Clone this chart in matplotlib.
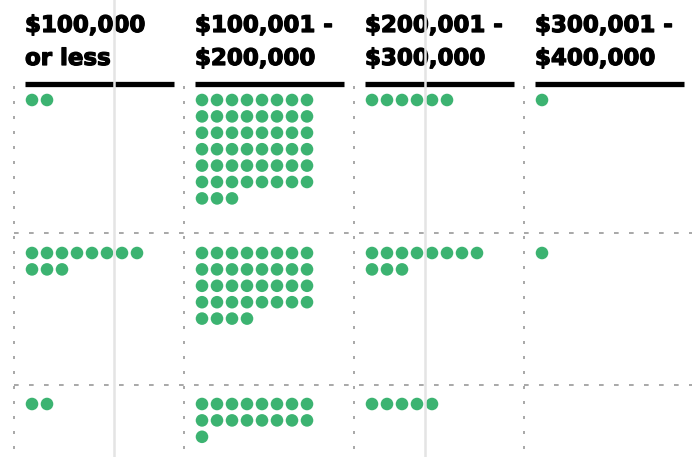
import matplotlib
matplotlib.use('Agg')
import matplotlib.pyplot as plt
import matplotlib.patheffects as pe
import numpy as np

# income brackets (column headers)
brackets = ['$100,000\nor less', '$100,001 -\n$200,000',
            '$200,001 -\n$300,000', '$300,001 -\n$400,000']

# dot counts per row, one value per bracket
row1_counts = [2, 51, 6, 1]
row2_counts = [11, 36, 11, 1]
row3_counts = [2, 17, 5, 0]
counts = [row1_counts, row2_counts, row3_counts]

dot_color = '#3cb371'
grid_color = '#9a9a9a'
per_row = 8

# layout in pixels
W, H = 692, 457
col_pitch = 170
col_left = 14        # dotted divider of first column
head_x = 25          # header text / bar start
bar_w = 149
bar_y = 83.5
dot_x0 = 32
dot_y0 = [100, 253, 404]
dx, dy = 15, 16.4
row_lines = [233, 385]

fig = plt.figure(figsize=(W / 100, H / 100), dpi=100)
ax = fig.add_axes([0, 0, 1, 1])
ax.set_xlim(0, W)
ax.set_ylim(H, 0)
ax.axis('off')

dash = (0, (2.8, 6.2))

# vertical dotted dividers
for c in range(len(brackets) + 1):
    x = col_left + c * col_pitch
    ax.plot([x, x], [86, H], color=grid_color, lw=1.2, linestyle=(0, (1.8, 7.2)), zorder=1)

# horizontal dashed row separators
for y in row_lines:
    ax.plot([col_left, W], [y, y], color=grid_color, lw=1.2, linestyle=dash, zorder=1)

# headers and black bars
heavy = [pe.withStroke(linewidth=0.9, foreground='#000000')]
for c, label in enumerate(brackets):
    x = head_x + c * col_pitch
    lines = label.split('\n')
    for k, txt in enumerate(lines):
        ax.text(x, 32 + k * 33, txt, fontsize=16.5, fontweight='bold',
                family='DejaVu Sans', color='#000000', va='baseline', ha='left',
                path_effects=heavy)
    ax.plot([x, x + bar_w], [bar_y, bar_y], color='#000000', lw=3.8,
            solid_capstyle='butt', zorder=2)

# dots
for r, row in enumerate(counts):
    for c, n in enumerate(row):
        if n == 0:
            continue
        idx = np.arange(n)
        xs = dot_x0 + c * col_pitch + (idx % per_row) * dx
        ys = dot_y0[r] + (idx // per_row) * dy
        ax.scatter(xs, ys, s=82, color=dot_color, edgecolors='none', zorder=3)

# light grey overlay lines from the screenshot
for x in [114, 425]:
    ax.plot([x, x], [0, H], color='#e4e4e4', lw=1.8, zorder=5)

fig.savefig('out.png', dpi=100)
